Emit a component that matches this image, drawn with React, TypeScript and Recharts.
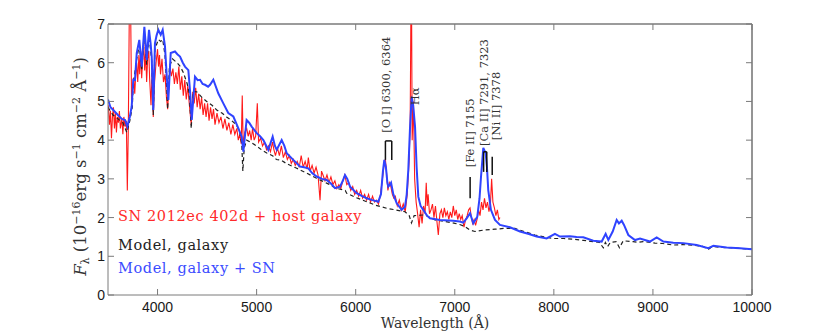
import React from 'react';
import { LineChart, Line, XAxis, YAxis, ReferenceLine, ReferenceDot } from 'recharts';

// ---------- Observed spectrum: SN 2012ec 402d + host galaxy ----------
const obsWave = [
  3503, 3515, 3525, 3535, 3545, 3555, 3565, 3575, 3585, 3595, 3605, 3615, 3625, 3640, 3650, 3660, 3672, 3685, 3695, 3705,
  3716, 3727, 3738, 3750, 3760, 3770, 3780, 3790, 3800, 3812, 3820, 3830, 3840, 3850, 3860, 3870, 3880, 3890, 3900, 3912,
  3920, 3934, 3945, 3957, 3970, 3985, 4000, 4010, 4020, 4030, 4045, 4060, 4075, 4090, 4102, 4115, 4125, 4140, 4155, 4170,
  4185, 4200, 4215, 4230, 4245, 4260, 4275, 4290, 4305, 4320, 4340, 4355, 4370, 4385, 4400, 4415, 4430, 4445, 4460, 4475,
  4490, 4505, 4520, 4535, 4550, 4565, 4580, 4600, 4620, 4640, 4660, 4680, 4700, 4720, 4740, 4760, 4780, 4800, 4815, 4830,
  4845, 4855, 4865, 4880, 4900, 4915, 4930, 4945, 4959, 4975, 4990, 5007, 5020, 5040, 5060, 5080, 5100, 5120, 5140, 5160,
  5175, 5190, 5210, 5230, 5250, 5270, 5290, 5310, 5330, 5350, 5370, 5390, 5410, 5430, 5450, 5470, 5490, 5510, 5522, 5540,
  5560, 5580, 5600, 5620, 5640, 5655, 5670, 5690, 5710, 5730, 5750, 5770, 5790, 5810, 5830, 5850, 5870, 5890, 5910, 5930,
  5950, 5970, 5990, 6010, 6030, 6050, 6070, 6090, 6110, 6130, 6150, 6170, 6190, 6210, 6230, 6250, 6270, 6290, 6300, 6310,
  6325, 6340, 6355, 6370, 6385, 6400, 6420, 6440, 6460, 6480, 6500, 6520, 6540, 6550, 6558, 6563, 6570, 6583, 6595, 6610,
  6625, 6640, 6655, 6670, 6685, 6700, 6712, 6722, 6731, 6745, 6760, 6775, 6790, 6805, 6820, 6834, 6850, 6865, 6880, 6895,
  6910, 6925, 6940, 6955, 6970, 6985, 7000, 7015, 7030, 7045, 7060, 7075, 7093, 7110, 7125, 7140, 7154, 7165, 7180, 7195,
  7210, 7225, 7240, 7255, 7270, 7285, 7300, 7315, 7330, 7345, 7360, 7372, 7385, 7400, 7415, 7430, 7445, 7456,
];
const obsFlux = [
  4.9, 4.4, 4.75, 4.05, 4.6, 4.85, 4.3, 4.7, 4.2, 4.6, 4.45, 4.75, 4.3, 4.55, 4.15, 4.6, 4.35, 4.5, 2.7, 4.3,
  7.6, 7.8, 4.9, 5.3, 5.6, 5.2, 5.7, 6.0, 5.5, 6.2, 5.7, 6.3, 5.6, 6.1, 6.6, 5.8, 6.3, 5.5, 6.1, 6.3,
  5.6, 4.9, 5.8, 4.6, 5.5, 6.0, 6.35, 5.9, 6.2, 5.7, 6.1, 5.5, 5.7, 5.1, 4.8, 5.4, 5.9, 5.65, 5.85, 5.45,
  5.75, 5.45, 5.9, 5.3, 5.65, 5.15, 5.55, 5.05, 5.4, 4.95, 4.4, 5.25, 4.95, 5.35, 4.85, 5.2, 4.8, 5.1, 4.65, 4.95,
  4.6, 4.95, 4.5, 4.85, 4.55, 4.8, 4.4, 4.7, 4.45, 4.6, 4.3, 4.55, 4.25, 4.45, 4.15, 4.4, 4.15, 4.3, 4.0, 4.15,
  3.9, 5.15, 3.8, 4.2, 4.3, 4.1, 4.25, 4.0, 4.3, 4.0, 4.1, 4.95, 3.95, 4.05, 3.85, 3.95, 3.75, 3.85, 3.7, 3.95,
  3.75, 3.6, 3.8, 3.6, 3.85, 3.55, 3.7, 3.5, 3.6, 3.4, 3.5, 3.35, 3.45, 3.3, 3.6, 3.3, 3.45, 3.25, 3.55, 3.2,
  3.35, 3.15, 3.3, 3.1, 2.45, 3.2, 3.1, 2.95, 3.1, 2.9, 3.05, 2.85, 2.95, 2.75, 2.85, 2.75, 2.95, 3.1, 2.85, 2.9,
  2.7, 2.8, 2.6, 2.7, 2.55, 2.7, 2.5, 2.6, 2.45, 2.6, 2.4, 2.55, 2.4, 2.45, 2.35, 2.6, 3.0, 3.45, 3.5, 3.2,
  2.7, 2.9, 2.8, 2.6, 2.5, 2.55, 2.3, 2.45, 2.2, 2.35, 2.15, 2.6, 3.5, 4.5, 7.6, 8.0, 4.0, 5.0, 3.0, 2.4,
  2.1, 1.75, 2.2, 1.85, 2.3, 2.1, 2.9, 2.3, 2.6, 2.1, 2.2, 2.35, 2.0, 2.3, 1.9, 1.55, 2.1, 2.2, 2.0, 2.25,
  2.05, 2.15, 1.95, 2.15, 2.0, 2.3, 2.05, 2.2, 1.95, 2.1, 1.95, 2.05, 1.75, 1.95, 2.05, 2.2, 2.25, 2.05, 1.85, 1.95,
  1.8, 1.95, 2.2, 2.05, 2.4, 2.2, 2.5, 2.25, 2.4, 2.15, 2.35, 3.0, 2.4, 2.25, 2.05, 2.2, 1.95, 2.0,
];

// ---------- Model, galaxy ----------
const galWave = [
  3500, 3550, 3600, 3650, 3690, 3720, 3745, 3755, 3790, 3816, 3840, 3867, 3890, 3914, 3941, 3957, 3974, 4008, 4032, 4052,
  4075, 4092, 4102, 4120, 4150, 4196, 4230, 4260, 4300, 4320, 4340, 4360, 4395, 4450, 4496, 4550, 4597, 4650, 4697, 4750,
  4798, 4830, 4850, 4861, 4875, 4900, 4950, 5000, 5050, 5102, 5160, 5200, 5250, 5304, 5400, 5505, 5600, 5707, 5800, 5895,
  5909, 6000, 6111, 6200, 6312, 6400, 6498, 6540, 6563, 6590, 6699, 6800, 6900, 7002, 7050, 7103, 7150, 7204, 7300, 7406,
  7500, 7607, 7700, 7809, 7900, 7994, 8100, 8196, 8300, 8398, 8460, 8499, 8520, 8542, 8570, 8630, 8662, 8700, 8800, 8850,
  8900, 9021, 9100, 9206, 9300, 9400, 9500, 9560, 9600, 9700, 9850, 10000,
];
const galFlux = [
  4.85, 4.65, 4.55, 4.45, 4.2, 4.5, 4.85, 5.45, 6.1, 6.45, 5.8, 6.75, 5.95, 6.7, 6.05, 4.65, 6.35, 6.6, 6.55, 6.6,
  6.2, 5.4, 4.8, 5.9, 6.1, 6.0, 5.9, 5.75, 5.45, 5.2, 4.3, 5.25, 5.25, 5.1, 5.0, 4.9, 4.78, 4.7, 4.6, 4.5,
  4.39, 4.2, 3.9, 3.2, 3.8, 4.0, 3.93, 3.85, 3.75, 3.67, 3.6, 3.5, 3.48, 3.39, 3.28, 3.15, 3.02, 2.89, 2.76, 2.7,
  2.63, 2.52, 2.41, 2.32, 2.24, 2.2, 2.15, 2.05, 1.86, 2.05, 2.07, 1.94, 1.9, 1.85, 1.82, 1.77, 1.68, 1.64, 1.68, 1.7,
  1.72, 1.72, 1.64, 1.55, 1.5, 1.46, 1.46, 1.44, 1.41, 1.38, 1.36, 1.22, 1.36, 1.25, 1.36, 1.38, 1.22, 1.4, 1.38, 1.36,
  1.38, 1.34, 1.33, 1.29, 1.3, 1.29, 1.26, 1.18, 1.25, 1.23, 1.21, 1.18,
];

// ---------- Model, galaxy + SN ----------
const modWave = [
  3500, 3525, 3553, 3600, 3640, 3672, 3695, 3720, 3739, 3755, 3772, 3790, 3816, 3830, 3840, 3867, 3880, 3890, 3914, 3930,
  3941, 3957, 3974, 3990, 4008, 4032, 4052, 4075, 4092, 4109, 4133, 4176, 4200, 4227, 4255, 4277, 4311, 4330, 4345, 4378,
  4405, 4429, 4455, 4479, 4510, 4530, 4563, 4613, 4664, 4714, 4765, 4815, 4849, 4866, 4899, 4925, 4950, 5001, 5035, 5068,
  5118, 5162, 5185, 5203, 5253, 5280, 5304, 5370, 5438, 5480, 5522, 5560, 5606, 5660, 5707, 5750, 5791, 5842, 5870, 5892,
  5915, 5943, 6010, 6060, 6111, 6170, 6228, 6255, 6275, 6289, 6305, 6320, 6329, 6345, 6357, 6380, 6414, 6464, 6498, 6515,
  6531, 6548, 6565, 6580, 6599, 6615, 6632, 6655, 6682, 6720, 6750, 6851, 6985, 7050, 7086, 7120, 7154, 7187, 7227, 7250,
  7265, 7288, 7312, 7325, 7338, 7365, 7406, 7456, 7557, 7658, 7740, 7826, 7927, 8011, 8062, 8163, 8230, 8297, 8398, 8483,
  8523, 8550, 8594, 8634, 8657, 8685, 8708, 8752, 8819, 8870, 8970, 9038, 9105, 9206, 9307, 9442, 9559, 9610, 9744, 9879,
  10000,
];
const modFlux = [
  5.05, 4.85, 4.78, 4.65, 4.55, 4.52, 4.35, 4.6, 4.87, 5.56, 5.55, 6.25, 6.59, 6.2, 5.9, 6.93, 6.5, 6.07, 6.85, 6.5,
  6.16, 4.78, 6.5, 6.7, 6.85, 6.72, 6.85, 6.42, 5.7, 5.04, 6.25, 6.29, 6.22, 6.16, 6.0, 5.9, 5.81, 5.2, 4.52, 5.64,
  5.55, 5.56, 5.45, 5.43, 5.38, 5.43, 5.56, 5.21, 4.95, 4.7, 4.61, 4.31, 4.09, 3.7, 4.52, 4.45, 4.35, 4.18, 4.1, 4.0,
  3.75, 4.09, 3.85, 3.75, 4.0, 3.85, 3.66, 3.49, 3.32, 3.3, 3.27, 3.15, 3.06, 3.0, 2.97, 2.88, 2.76, 2.8, 2.95, 3.1,
  3.0, 2.8, 2.63, 2.56, 2.5, 2.45, 2.41, 2.6, 3.2, 3.49, 3.3, 2.9, 2.8, 2.85, 2.9, 2.6, 2.37, 2.2, 2.28, 2.6,
  3.23, 4.3, 5.12, 4.9, 4.35, 3.3, 2.54, 2.3, 2.2, 2.05, 1.98, 1.94, 1.92, 1.9, 1.87, 1.98, 2.11, 1.85, 2.02, 2.5,
  3.06, 3.8, 3.66, 3.3, 2.71, 2.2, 1.94, 1.81, 1.75, 1.64, 1.58, 1.51, 1.46, 1.58, 1.51, 1.52, 1.5, 1.49, 1.4, 1.38,
  1.58, 1.42, 1.64, 1.94, 1.85, 1.92, 1.81, 1.55, 1.42, 1.46, 1.38, 1.49, 1.38, 1.35, 1.34, 1.29, 1.21, 1.27, 1.23, 1.21,
  1.18,
];

const xTicks = [4000, 5000, 6000, 7000, 8000, 9000, 10000];
const yTicks = [0, 1, 2, 3, 4, 5, 6, 7];
const xDomain = [3500, 10000];
const yDomain = [0, 7];

const legendLabels = ['SN 2012ec 402d + host galaxy', 'Model, galaxy', 'Model, galaxy + SN'];
const legendColors = ['#ff2a2a', '#222222', '#3b4cff'];

// line identifications: label, anchor wavelength, anchor flux (text base)
const lineLabels = [
  { text: '[O I] 6300, 6364', x: 6306, y: 4.19 },
  { text: 'H\u03b1', x: 6598, y: 4.9 },
  { text: '[Fe II] 7155', x: 7154, y: 3.3 },
  { text: '[Ca II] 7291, 7323', x: 7297, y: 3.85 },
  { text: '[Ni II] 7378', x: 7416, y: 4.0 },
];
// marker segments: [x1, y1, x2, y2]
const markerSegs = [
  [6300, 3.49, 6300, 3.98],
  [6300, 3.98, 6364, 3.98],
  [6364, 3.98, 6364, 3.49],
  [7155, 2.5, 7155, 3.05],
  [7291, 3.18, 7291, 3.7],
  [7291, 3.7, 7323, 3.7],
  [7323, 3.7, 7323, 3.18],
  [7378, 3.1, 7378, 3.57],
];

const toPts = (w: number[], f: number[]) => w.map((x, i) => ({ x, y: f[i] }));
const obsData = toPts(obsWave, obsFlux);
const galData = toPts(galWave, galFlux);
const modData = toPts(modWave, modFlux);

const AXIS = '#7a7a7a';
const SERIF = '"DejaVu Serif", serif';
const SANS = '"Liberation Sans", Arial, sans-serif';
const blank = () => '';

const rotLabel = (text: string) => (props: any) => {
  const vb = props.viewBox || {};
  const x = vb.x ?? 0;
  const y = vb.y ?? 0;
  return (
    <text
      x={x}
      y={y}
      transform={`rotate(-90 ${x} ${y})`}
      textAnchor="start"
      dominantBaseline="central"
      fontFamily={SERIF}
      fontSize={11.5}
      fill="#333"
    >
      {text}
    </text>
  );
};

const YLabel = (props: any) => {
  const vb = props.viewBox || { x: 48, y: 24, width: 60, height: 271 };
  const cx = vb.x + 38;
  const cy = vb.y + vb.height / 2 + 7;
  return (
    <text
      x={cx}
      y={cy}
      transform={`rotate(-90 ${cx} ${cy})`}
      textAnchor="middle"
      fontFamily={SERIF}
      fontSize={16.5}
      fill="#333"
    >
      <tspan fontStyle="italic">F</tspan>
      <tspan fontSize={11} dy={3}>{'\u03bb'}</tspan>
      <tspan dy={-3}>{' (10'}</tspan>
      <tspan fontSize={11} dy={-6}>{'\u221216'}</tspan>
      <tspan dy={6}>{'erg s'}</tspan>
      <tspan fontSize={11} dy={-6}>{'\u22121'}</tspan>
      <tspan dy={6}>{' cm'}</tspan>
      <tspan fontSize={11} dy={-6}>{'\u22122'}</tspan>
      <tspan dy={6}>{' \u00c5'}</tspan>
      <tspan fontSize={11} dy={-6}>{'\u22121'}</tspan>
      <tspan dy={6}>{')'}</tspan>
    </text>
  );
};

const XLabel = (props: any) => {
  const vb = props.viewBox || { x: 108, y: 295, width: 644, height: 30 };
  return (
    <text
      x={vb.x + vb.width / 2 + 5}
      y={vb.y + 33}
      textAnchor="middle"
      fontFamily={SERIF}
      fontSize={14}
      fill="#333"
    >
      Wavelength (Å)
    </text>
  );
};

export default function App() {
  return (
    <div style={{ position: 'relative', width: 830, height: 333 }}>
      <style>{`body{margin:0;overflow:hidden;background:#fff}`}</style>
      <LineChart
        width={830}
        height={333}
        margin={{ top: 4, right: 58, bottom: 8, left: 48 }}
      >
        <XAxis
          type="number"
          dataKey="x"
          domain={xDomain}
          ticks={xTicks}
          allowDataOverflow
          height={30}
          stroke={AXIS}
          tickSize={-6}
          tickMargin={13}
          tick={{ fill: '#1a1a1a', fontSize: 14, fontFamily: SANS }}
          label={<XLabel />}
        />
        <XAxis
          xAxisId="top"
          orientation="top"
          type="number"
          dataKey="x"
          domain={xDomain}
          ticks={xTicks}
          allowDataOverflow
          height={20}
          stroke={AXIS}
          tickSize={-6}
          tickFormatter={blank}
        />
        <YAxis
          type="number"
          domain={yDomain}
          ticks={yTicks}
          allowDataOverflow
          width={60}
          stroke={AXIS}
          tickSize={-6}
          tickMargin={9}
          tick={{ fill: '#1a1a1a', fontSize: 14, fontFamily: SANS }}
          label={<YLabel />}
        />
        <YAxis
          yAxisId="right"
          orientation="right"
          type="number"
          domain={yDomain}
          ticks={yTicks}
          allowDataOverflow
          width={20}
          stroke={AXIS}
          tickSize={-6}
          tickFormatter={blank}
        />
        <ReferenceLine y={yDomain[1]} stroke={AXIS} strokeWidth={1.2} ifOverflow="visible" />
        <ReferenceLine x={xDomain[1]} stroke={AXIS} strokeWidth={1.2} ifOverflow="visible" />
        <Line
          data={obsData}
          dataKey="y"
          type="linear"
          stroke="#ff1a1a"
          strokeWidth={1.1}
          dot={false}
          isAnimationActive={false}
        />
        <Line
          data={galData}
          dataKey="y"
          type="linear"
          stroke="#222"
          strokeWidth={1.2}
          strokeDasharray="4 3"
          dot={false}
          isAnimationActive={false}
        />
        <Line
          data={modData}
          dataKey="y"
          type="linear"
          stroke="#2f43ff"
          strokeWidth={2}
          dot={false}
          isAnimationActive={false}
        />
        {markerSegs.map((s, i) => (
          <ReferenceLine
            key={'seg' + i}
            segment={[{ x: s[0], y: s[1] }, { x: s[2], y: s[3] }]}
            stroke="#111"
            strokeWidth={1.5}
          />
        ))}
        {lineLabels.map((l, i) => (
          <ReferenceDot
            key={'lbl' + i}
            x={l.x}
            y={l.y}
            r={0}
            fill="none"
            stroke="none"
            label={rotLabel(l.text)}
          />
        ))}
      </LineChart>
      <svg
        width={830}
        height={333}
        style={{ position: 'absolute', left: 0, top: 0, pointerEvents: 'none' }}
      >
        {legendLabels.map((t, i) => (
          <text
            key={t}
            x={118}
            y={221 + [0, 29, 52][i]}
            fontFamily={SERIF}
            fontSize={14.5}
            letterSpacing={0.6}
            fill={legendColors[i]}
          >
            {t}
          </text>
        ))}
      </svg>
    </div>
  );
}
